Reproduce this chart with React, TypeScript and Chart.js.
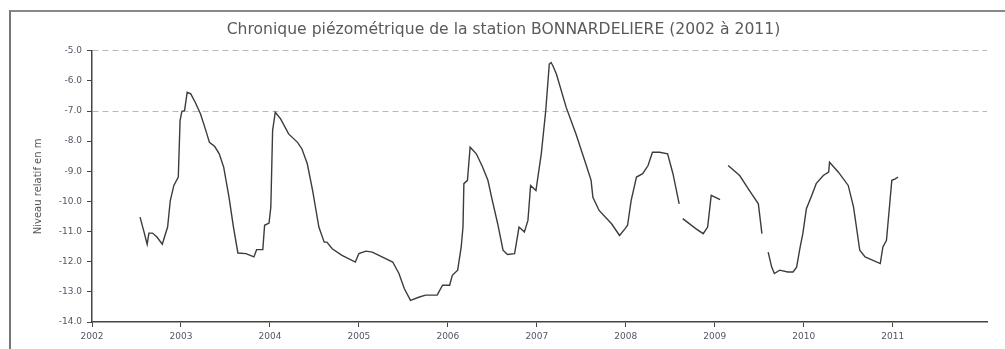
import React, { useEffect, useRef } from "react";
import { Chart, registerables } from "chart.js";

Chart.register(...registerables);

const TITLE = "Chronique piézométrique de la station BONNARDELIERE (2002 à 2011)";
const Y_TITLE = "Niveau relatif en m";

// decimal years of each reading (null level = gap in the record)
const years: number[] = [
  2002.54, 2002.58, 2002.62, 2002.64, 2002.68, 2002.73, 2002.79, 2002.82, 2002.85, 2002.88,
  2002.92, 2002.97, 2002.99, 2003.01, 2003.04, 2003.07, 2003.11, 2003.16, 2003.22, 2003.28,
  2003.32, 2003.38, 2003.43, 2003.48, 2003.54, 2003.59, 2003.64, 2003.73, 2003.82, 2003.85,
  2003.92, 2003.94, 2003.99, 2004.01, 2004.03, 2004.06, 2004.12, 2004.21, 2004.31, 2004.36,
  2004.42, 2004.48, 2004.55, 2004.61, 2004.64, 2004.70, 2004.81, 2004.96, 2005.0, 2005.08,
  2005.15, 2005.26, 2005.38, 2005.45, 2005.51, 2005.58, 2005.68, 2005.75, 2005.88, 2005.94,
  2006.02, 2006.05, 2006.11, 2006.15, 2006.17, 2006.18, 2006.22, 2006.25, 2006.32, 2006.39,
  2006.45, 2006.5, 2006.56, 2006.62, 2006.67, 2006.75, 2006.8, 2006.86, 2006.9, 2006.93,
  2006.99, 2007.05, 2007.1, 2007.14, 2007.16, 2007.18, 2007.22, 2007.33, 2007.44, 2007.55,
  2007.61, 2007.63, 2007.7, 2007.84, 2007.93, 2007.99, 2008.02, 2008.06, 2008.12, 2008.19,
  2008.25, 2008.3, 2008.38, 2008.47, 2008.53, 2008.6, 2008.62, 2008.64, 2008.79, 2008.87,
  2008.92, 2008.96, 2009.06, 2009.1, 2009.15, 2009.28, 2009.39, 2009.49, 2009.53, 2009.56,
  2009.6, 2009.64, 2009.67, 2009.73, 2009.82, 2009.88, 2009.92, 2009.96, 2009.99, 2010.03,
  2010.09, 2010.14, 2010.22, 2010.28, 2010.29, 2010.39, 2010.5, 2010.56, 2010.63, 2010.69,
  2010.86, 2010.89, 2010.93, 2010.97, 2010.99, 2011.03, 2011.06,
];

// groundwater level (m, relative)
const levels: (number | null)[] = [
  -10.52, -10.96, -11.42, -11.05, -11.05, -11.18, -11.42, -11.13, -10.85, -9.97,
  -9.47, -9.19, -7.32, -7.01, -6.99, -6.38, -6.43, -6.71, -7.1, -7.65,
  -8.04, -8.18, -8.42, -8.86, -9.86, -10.85, -11.71, -11.73, -11.84, -11.6,
  -11.6, -10.79, -10.72, -10.19, -7.65, -7.04, -7.26, -7.76, -8.04, -8.26,
  -8.75, -9.64, -10.85, -11.35, -11.35, -11.57, -11.79, -12.01, -11.73, -11.65,
  -11.68, -11.84, -12.01, -12.39, -12.89, -13.28, -13.17, -13.11, -13.11, -12.78,
  -12.78, -12.45, -12.28, -11.51, -10.85, -9.41, -9.3, -8.2, -8.42, -8.86,
  -9.3, -9.97, -10.74, -11.62, -11.76, -11.73, -10.85, -11.01, -10.63, -9.47,
  -9.64, -8.42, -6.99, -5.44, -5.39, -5.5, -5.77, -6.88, -7.76, -8.75,
  -9.3, -9.86, -10.3, -10.74, -11.13, -10.91, -10.79, -9.97, -9.19, -9.08,
  -8.81, -8.37, -8.37, -8.42, -9.08, -10.08, null, -10.57, -10.91, -11.07,
  -10.85, -9.8, -9.94, null, -8.81, -9.14, -9.64, -10.08, -11.07, null,
  -11.68, -12.18, -12.39, -12.28, -12.34, -12.34, -12.18, -11.51, -11.07, -10.24,
  -9.8, -9.41, -9.14, -9.03, -8.7, -9.03, -9.47, -10.19, -11.62, -11.84,
  -12.06, -11.51, -11.29, -9.97, -9.3, -9.25, -9.19,
];

const yearTicks: number[] = [2002, 2003, 2004, 2005, 2006, 2007, 2008, 2009, 2010, 2011];
const levelTicks: number[] = [-5, -6, -7, -8, -9, -10, -11, -12, -13, -14];
const gridLevels: number[] = [-5, -7];

export default function App() {
  const canvasRef = useRef<HTMLCanvasElement | null>(null);

  useEffect(() => {
    const canvas = canvasRef.current;
    if (!canvas) return;
    const points = years.map((x, i) => ({ x, y: levels[i] }));
    const chart = new Chart(canvas, {
      type: "line",
      data: {
        datasets: [
          {
            data: points as any,
            borderColor: "#3c3c3c",
            borderWidth: 1.4,
            pointRadius: 0,
            tension: 0,
            spanGaps: false,
          },
        ],
      },
      options: {
        animation: false,
        responsive: true,
        maintainAspectRatio: false,
        parsing: false,
        layout: { padding: { left: 20, right: 18, top: 0, bottom: 0 } },
        plugins: {
          legend: { display: false },
          tooltip: { enabled: false },
          title: {
            display: true,
            text: TITLE,
            color: "#5a5a5a",
            font: { family: "DejaVu Sans", size: 15.6, weight: "normal" },
            padding: { top: 21, bottom: 11 },
          },
        },
        scales: {
          x: {
            type: "linear",
            min: 2002,
            max: 2012.06,
            afterBuildTicks: (scale: any) => {
              scale.ticks = yearTicks.map((v) => ({ value: v }));
            },
            afterFit: (scale: any) => {
              scale.height = 27;
            },
            ticks: {
              color: "#556",
              font: { family: "DejaVu Sans", size: 9 },
              padding: 4,
              maxRotation: 0,
              callback: (v: any) => String(v),
            },
            grid: {
              drawOnChartArea: false,
              drawTicks: true,
              tickLength: 5,
              tickColor: "#444",
            },
            border: { display: true, color: "#444", width: 1.5 },
          },
          y: {
            type: "linear",
            min: -14,
            max: -5,
            afterBuildTicks: (scale: any) => {
              scale.ticks = levelTicks.map((v) => ({ value: v }));
            },
            afterFit: (scale: any) => {
              scale.width = 72;
            },
            ticks: {
              color: "#556",
              font: { family: "DejaVu Sans", size: 9 },
              padding: 5,
              callback: (v: any) => Number(v).toFixed(1),
            },
            grid: {
              color: (ctx: any) =>
                ctx.tick && gridLevels.includes(ctx.tick.value) ? "#b8b8b8" : "rgba(0,0,0,0)",
              lineWidth: 1,
              drawTicks: true,
              tickLength: 5,
              tickColor: "#444",
            },
            border: { display: true, color: "#444", width: 1.5, dash: [6, 4] },
            title: {
              display: true,
              text: Y_TITLE,
              color: "#555",
              font: { family: "DejaVu Sans", size: 10 },
              padding: { top: 12, bottom: 4 },
            },
          },
        },
      },
    });
    return () => chart.destroy();
  }, []);

  return (
    <div style={{ position: "fixed", left: 0, top: 0, width: 1005, height: 349, background: "#fff" }}>
      <div
        style={{
          position: "absolute",
          left: 9,
          top: 10,
          width: 996,
          height: 339,
          borderLeft: "2px solid #777",
          borderTop: "2px solid #888",
          boxSizing: "border-box",
        }}
      />
      <canvas ref={canvasRef} style={{ position: "absolute", left: 0, top: 0 }} />
    </div>
  );
}
